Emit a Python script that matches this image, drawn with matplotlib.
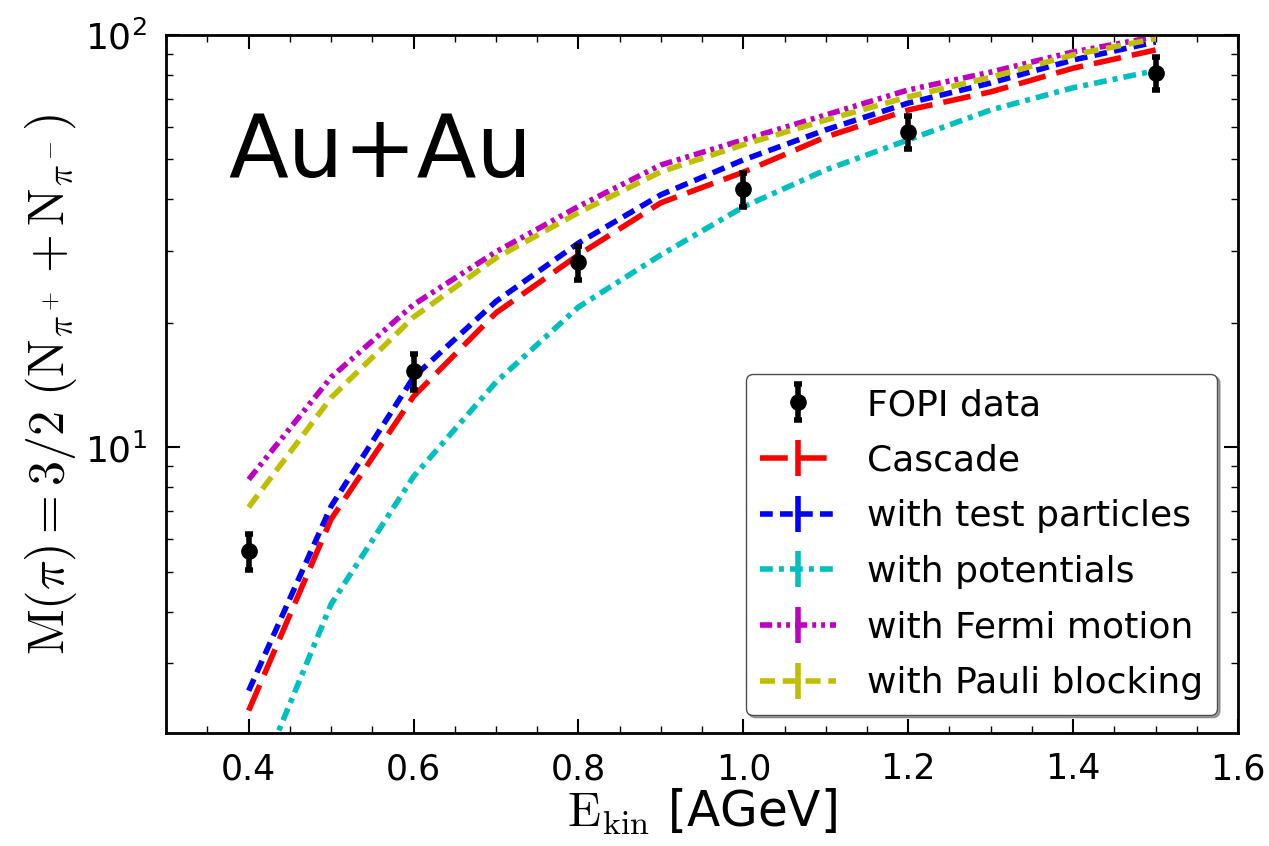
import numpy as np
import matplotlib.pyplot as plt
from matplotlib.ticker import MultipleLocator

plt.rcParams['mathtext.fontset'] = 'cm'

# FOPI measurement
e_data = [0.4, 0.6, 0.8, 1.0, 1.2, 1.5]
m_data = [5.6, 15.3, 28.1, 42.3, 58.3, 80.9]
m_err = [0.55, 1.5, 2.7, 4.0, 5.3, 7.5]

# model curves
e_model = [0.4, 0.5, 0.6, 0.7, 0.8, 0.9, 1.0, 1.1, 1.2, 1.3, 1.4, 1.5]
cascade = [2.30, 6.7, 13.3, 21.2, 29.3, 39.2, 46.5, 56.6, 65.8, 72.8, 83.1, 92.0]
test_particles = [2.57, 7.2, 14.8, 22.6, 31.3, 41.0, 49.8, 58.9, 68.4, 76.5, 87.0, 96.2]
potentials = [1.37, 4.17, 8.5, 14.4, 21.9, 29.3, 38.3, 47.1, 55.7, 65.8, 74.5, 82.0]
fermi = [8.36, 14.8, 22.2, 29.8, 38.4, 48.4, 55.7, 64.0, 73.6, 81.3, 91.0, 99.0]
pauli = [7.16, 13.2, 20.7, 28.8, 37.1, 46.6, 54.2, 62.2, 70.8, 79.0, 89.5, 98.0]
model_err = [0.0] * len(e_model)

fig = plt.figure(figsize=(12.69, 8.46), dpi=100)
ax = fig.add_axes([0.131, 0.1336, 0.8446, 0.825])

ax.errorbar(e_data, m_data, yerr=m_err, fmt='o', color='k', ms=11,
            elinewidth=4, capsize=3, capthick=4, label='FOPI data', zorder=5)

curves = [
    (cascade, 'r', (0, (5, 2)), 'Cascade'),
    (test_particles, 'b', (0, (2.3, 1.3)), 'with test particles'),
    (potentials, 'c', (0, (2.3, 1.1, 0.9, 1.1)), 'with potentials'),
    (fermi, 'm', (0, (2.2, 0.9, 0.7, 0.9, 0.7, 0.9)), 'with Fermi motion'),
    (pauli, 'y', (0, (2.7, 1.4)), 'with Pauli blocking'),
]
for vals, col, ls, lab in curves:
    eb = ax.errorbar(e_model, vals, yerr=model_err, color=col, lw=4,
                     elinewidth=4, label=lab)
    eb[0].set_linestyle(ls)
    eb[0].set_dash_capstyle('butt')

ax.set_yscale('log')
ax.set_xlim(0.3, 1.6)
ax.set_ylim(2.03, 100)
ax.xaxis.set_minor_locator(MultipleLocator(0.05))
ax.set_xticks([0.4, 0.6, 0.8, 1.0, 1.2, 1.4, 1.6])
ax.set_xticklabels(['0.4', '0.6', '0.8', '1.0', '1.2', '1.4', '1.6'])
ax.tick_params(which='both', direction='in', top=True, right=True)
ax.tick_params(which='major', length=10, width=1.5, labelsize=25, pad=14)
ax.tick_params(axis='y', which='major', labelsize=26)
ax.tick_params(which='minor', length=5, width=1)
for sp in ax.spines.values():
    sp.set_linewidth(2)

ax.set_xlabel(r'$\mathrm{E_{kin}}$ [AGeV]', fontsize=35, labelpad=0)
ax.set_ylabel(r'$\mathrm{M(\pi) = 3/2\ (N_{\pi^+} + N_{\pi^-})}$', fontsize=36, labelpad=4)

ax.text(0.058, 0.797, 'Au+Au', transform=ax.transAxes, fontsize=63, va='baseline')

ax.legend(loc='lower right', bbox_to_anchor=(0.9805, 0.026), borderaxespad=0,
          fontsize=26, fancybox=True, shadow=True, framealpha=1, edgecolor='0.3',
          handlelength=2.1, handletextpad=0.85, labelspacing=0.6,
          borderpad=0.4, numpoints=1)

fig.savefig('out.png', dpi=100)
